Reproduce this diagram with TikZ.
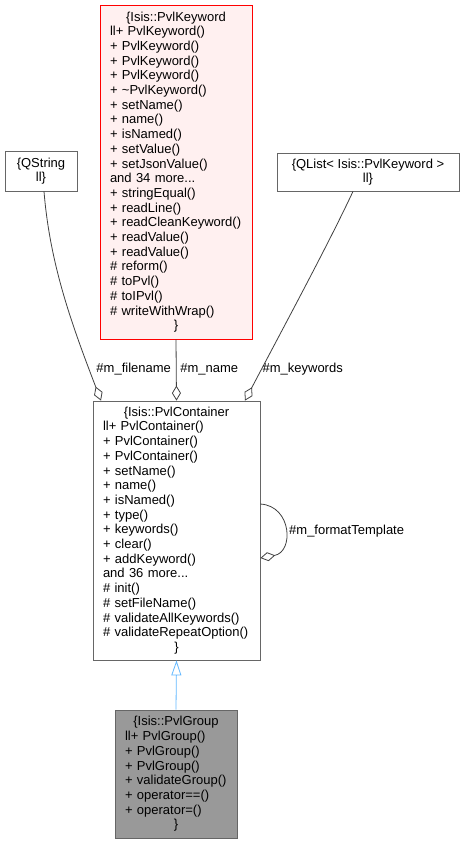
\documentclass[tikz,border=0pt]{standalone}
\usepackage{fontspec}
\setmainfont{Liberation Sans}
\usetikzlibrary{arrows.meta}
\definecolor{boxgray}{HTML}{666666}
\definecolor{edgegray}{HTML}{404040}
\definecolor{kwfill}{HTML}{FFF0F0}
\definecolor{inhblue}{HTML}{63B8FF}
\definecolor{pgfill}{HTML}{999999}
\begin{document}
\begin{tikzpicture}[x=1pt,y=1pt,
  cls/.style={draw=boxgray, fill=white, line width=0.8pt, inner xsep=10pt, inner ysep=0pt,
    font=\fontsize{13}{14.7}\selectfont, align=left, anchor=center},
  lbl/.style={font=\fontsize{13}{14.7}\selectfont, inner sep=0pt},
  agg/.style={draw=edgegray, line width=0.8pt, -{Diamond[open,length=15pt,width=9pt]}},
  inh/.style={draw=inhblue, line width=0.8pt, -{Triangle[open,length=15pt,width=10pt]}}]

\useasboundingbox (0,0) rectangle (463,-844);

\node[cls, draw=red, fill=kwfill, text width=132pt, minimum height=334pt] (kw) at (176,-172)
{\makebox[\linewidth][c]{\{Isis::PvlKeyword}\\
ll+~PvlKeyword()\\
+~PvlKeyword()\\
+~PvlKeyword()\\
+~PvlKeyword()\\
+~\textasciitilde PvlKeyword()\\
+~setName()\\
+~name()\\
+~isNamed()\\
+~setValue()\\
+~setJsonValue()\\
and~34~more...\\
+~stringEqual()\\
+~readLine()\\
+~readCleanKeyword()\\
+~readValue()\\
+~readValue()\\
\#~reform()\\
\#~toPvl()\\
\#~toIPvl()\\
\#~writeWithWrap()\\
\makebox[\linewidth][c]{\}}};

\node[cls, align=center, inner xsep=2pt, minimum width=72pt, minimum height=40pt] (qs) at (41,-171)
{\{QString\\ll\}};

\node[cls, align=center, inner xsep=2pt, minimum width=182pt, minimum height=38pt] (ql) at (368,-172)
{\{QList<~Isis::PvlKeyword~>\\ll\}};

\node[cls, text width=147pt, minimum height=259pt] (pc) at (176.5,-530.5)
{\makebox[\linewidth][c]{\{Isis::PvlContainer}\\
ll+~PvlContainer()\\
+~PvlContainer()\\
+~PvlContainer()\\
+~setName()\\
+~name()\\
+~isNamed()\\
+~type()\\
+~keywords()\\
+~clear()\\
+~addKeyword()\\
and~36~more...\\
\#~init()\\
\#~setFileName()\\
\#~validateAllKeywords()\\
\#~validateRepeatOption()\\
\makebox[\linewidth][c]{\}}};

\node[cls, fill=pgfill, text width=102pt, minimum height=128pt] (pg) at (176,-774)
{\makebox[\linewidth][c]{\{Isis::PvlGroup}\\
ll+~PvlGroup()\\
+~PvlGroup()\\
+~PvlGroup()\\
+~validateGroup()\\
+~operator==()\\
+~operator=()\\
\makebox[\linewidth][c]{\}}};

\draw[agg] ([xshift=3pt]qs.south) .. controls (50,-265) and (72,-325) .. ([xshift=-75.5pt]pc.north);
\draw[agg] (kw.south) -- (pc.north);
\draw[agg] ([xshift=-15pt]ql.south) .. controls (328,-245) and (282,-330) .. ([xshift=68.5pt]pc.north);
\draw[agg] ([yshift=26.5pt]pc.east) .. controls (292,-506) and (294,-552) .. ([yshift=-27.5pt]pc.east);
\draw[inh] (pg.north) -- (pc.south);

\node[lbl] (lfn) at (133.7,-369) {\#m\_filename};
\node[lbl] (lnm) at (209.3,-369) {\#m\_name};
\node[lbl] (lkw) at (302.7,-369) {\#m\_keywords};
\node[lbl, anchor=west] (lft) at (289,-531) {\#m\_formatTemplate};
\end{tikzpicture}
\end{document}
